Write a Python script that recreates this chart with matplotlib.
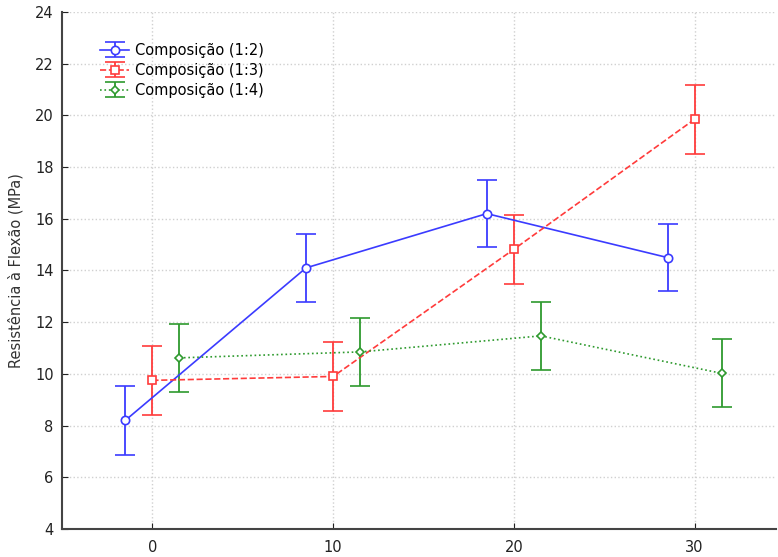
import numpy as np
import matplotlib.pyplot as plt

# days / dosage positions and flexural strength (MPa)
x_pos = [0, 10, 20, 30]
labels = ['Composição (1:2)', 'Composição (1:3)', 'Composição (1:4)']
offsets = [-1.5, 0.0, 1.5]

mean_12 = [8.2, 14.1, 16.2, 14.5]
err_12 = [1.32, 1.32, 1.30, 1.30]
mean_13 = [9.75, 9.9, 14.82, 19.85]
err_13 = [1.33, 1.33, 1.33, 1.33]
mean_14 = [10.62, 10.85, 11.47, 10.02]
err_14 = [1.32, 1.32, 1.32, 1.32]

means = [mean_12, mean_13, mean_14]
errs = [err_12, err_13, err_14]
colors = ['#3b3bff', '#ff3b3b', '#2e9a2e']
markers = ['o', 's', 'D']
msizes = [6, 6, 4.5]
styles = ['-', '--', ':']

fig = plt.figure(figsize=(7.78, 5.57), dpi=100)
ax = fig.add_axes([0.0797, 0.0503, 0.9177, 0.9282])

for m, e, c, mk, ms, ls, lab, off in zip(means, errs, colors, markers, msizes, styles, labels, offsets):
    xs = np.array(x_pos) + off
    ax.errorbar(xs, m, yerr=e, color=c, marker=mk, markersize=ms,
                markerfacecolor='white', markeredgecolor=c, markeredgewidth=1.2,
                linestyle=ls, linewidth=1.2, capsize=7, capthick=1.3,
                elinewidth=1.3, label=lab)

ax.set_xlim(-5, 34.5)
ax.set_ylim(4, 24)
ax.set_xticks(x_pos)
ax.set_yticks(np.arange(4, 25, 2))
ax.grid(True, linestyle=':', color='#d0d0d0', linewidth=1)
ax.set_axisbelow(True)
ax.spines['top'].set_visible(False)
ax.spines['right'].set_visible(False)
ax.spines['left'].set_linewidth(1.5)
ax.spines['bottom'].set_linewidth(1.5)
ax.spines['left'].set_color('#444444')
ax.spines['bottom'].set_color('#444444')
ax.tick_params(direction='in', length=4, labelsize=10.5, colors='#222222')
ax.tick_params(axis='x', pad=8)
ax.tick_params(axis='y', pad=6)
ax.set_ylabel('Resistência à Flexão (MPa)', fontsize=10.5, color='#333333', labelpad=8)

ax.legend(loc='upper left', bbox_to_anchor=(0.045, 0.952), frameon=False,
          fontsize=10.5, handlelength=2.0, labelspacing=0.35, handletextpad=0.4,
          borderaxespad=0)

fig.savefig('out.png', dpi=100)
